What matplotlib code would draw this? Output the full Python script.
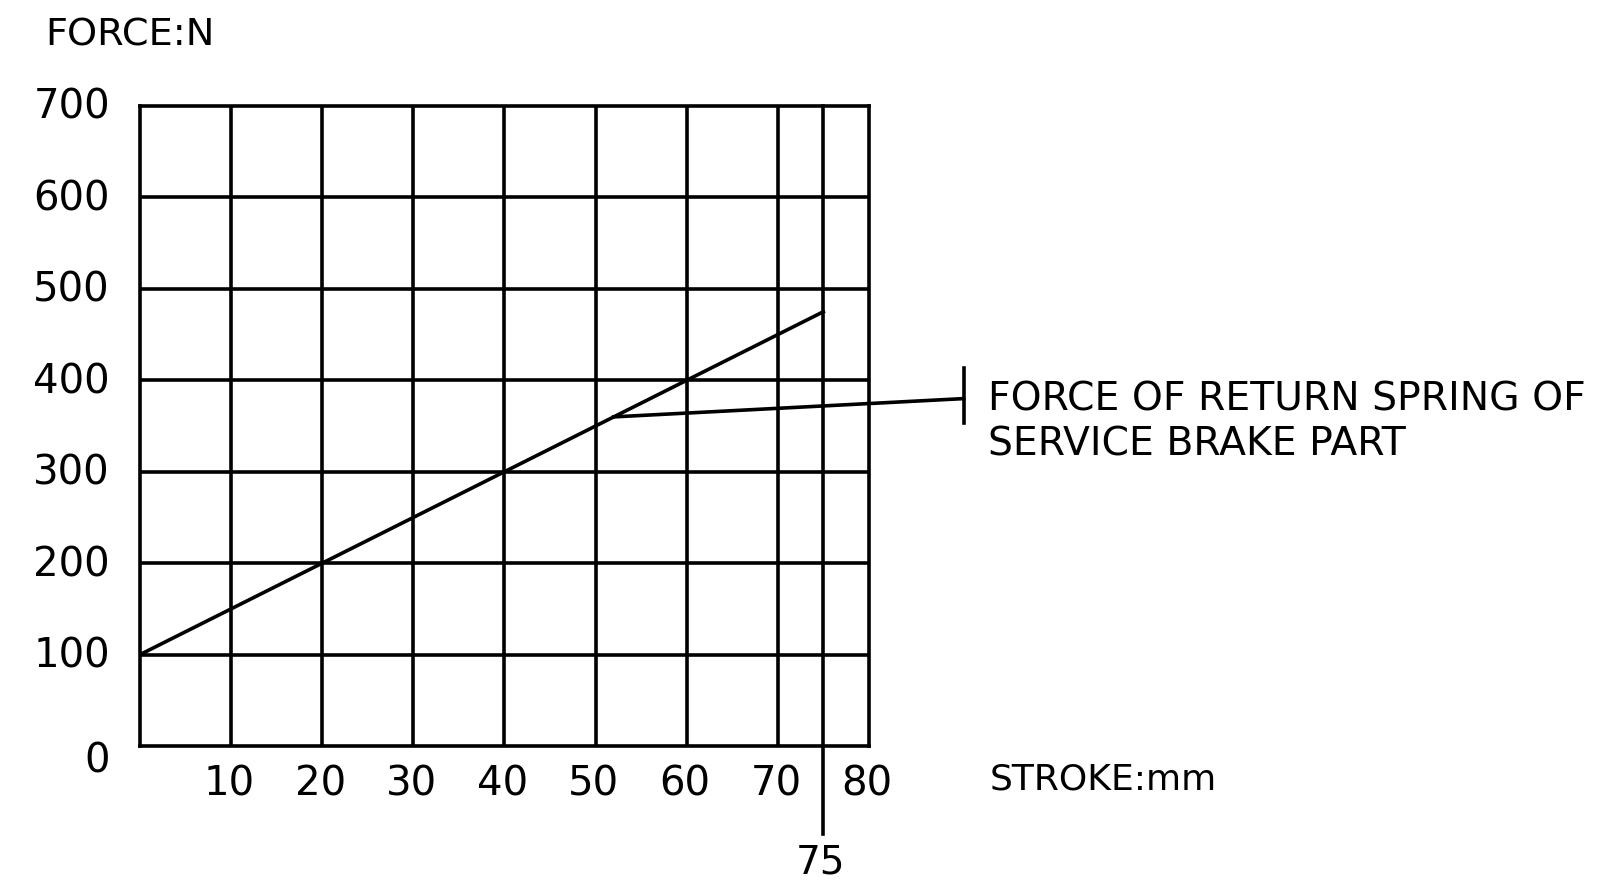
import matplotlib
matplotlib.use('Agg')
from matplotlib import pyplot as plt

# stroke (mm) vs force (N) of the return spring
stroke = [0, 20, 40, 60, 75]
force = [100, 200, 300, 400, 475]

x_grid = [10, 20, 30, 40, 50, 60, 70]
y_grid = [100, 200, 300, 400, 500, 600]
x_labels = ['10', '20', '30', '40', '50', '60', '70', '80']
x_label_pos = [10, 20, 30, 40, 50, 60, 70, 80]
y_labels = ['0', '100', '200', '300', '400', '500', '600', '700']
y_label_pos = [0, 100, 200, 300, 400, 500, 600, 700]

end_stroke = 75
leader_start = (52, 360)
leader_end = (90.4, 380)

NUM_FONT = 'DejaVu Sans'
CAD_FONT = 'DejaVu Sans'
LW = 2.6


def draw_chart():
    fig = plt.figure(figsize=(16.18, 8.91), dpi=100)
    ax = fig.add_axes([0.0865, 0.1627, 0.4505, 0.7183])
    ax.set_xlim(0, 80)
    ax.set_ylim(0, 700)
    for s in ax.spines.values():
        s.set_linewidth(LW)
    ax.set_xticks([])
    ax.set_yticks([])

    for x in x_grid:
        ax.axvline(x, color='black', lw=LW)
    for y in y_grid:
        ax.axhline(y, color='black', lw=LW)

    # end-of-stroke line, runs below the axes
    ax.plot([end_stroke, end_stroke], [700, -96], color='black', lw=LW, clip_on=False)
    ax.text(end_stroke - 0.3, -127, '75', ha='center', va='center', fontsize=28, family=NUM_FONT)

    ax.plot(stroke, force, color='black', lw=LW)

    # leader to the note
    ax.plot([leader_start[0], leader_end[0]], [leader_start[1], leader_end[1]],
            color='black', lw=LW, clip_on=False)
    ax.plot([leader_end[0], leader_end[0]], [353, 413], color='black', lw=LW, clip_on=False)
    ax.text(93.1, 379, 'FORCE OF RETURN SPRING OF', ha='left', va='center',
            fontsize=28.3, family=CAD_FONT)
    ax.text(93.1, 330, 'SERVICE BRAKE PART', ha='left', va='center',
            fontsize=28.3, family=CAD_FONT)

    for lab, x in zip(x_labels, x_label_pos):
        ax.text(x - 0.2, -42, lab, ha='center', va='center', fontsize=29, family=NUM_FONT, clip_on=False)
    for lab, y in zip(y_labels, y_label_pos):
        yy = y - 17 if y == 0 else y - 2
        ax.text(-3.3, yy, lab, ha='right', va='center', fontsize=29, family=NUM_FONT, clip_on=False)

    ax.text(93.3, -37, 'STROKE:mm', ha='left', va='center', fontsize=26, family=CAD_FONT)
    fig.text(0.028, 0.96, 'FORCE:N', ha='left', va='center', fontsize=27.5, family=NUM_FONT)

    fig.savefig('out.png', dpi=100)


if __name__ == '__main__':
    draw_chart()
